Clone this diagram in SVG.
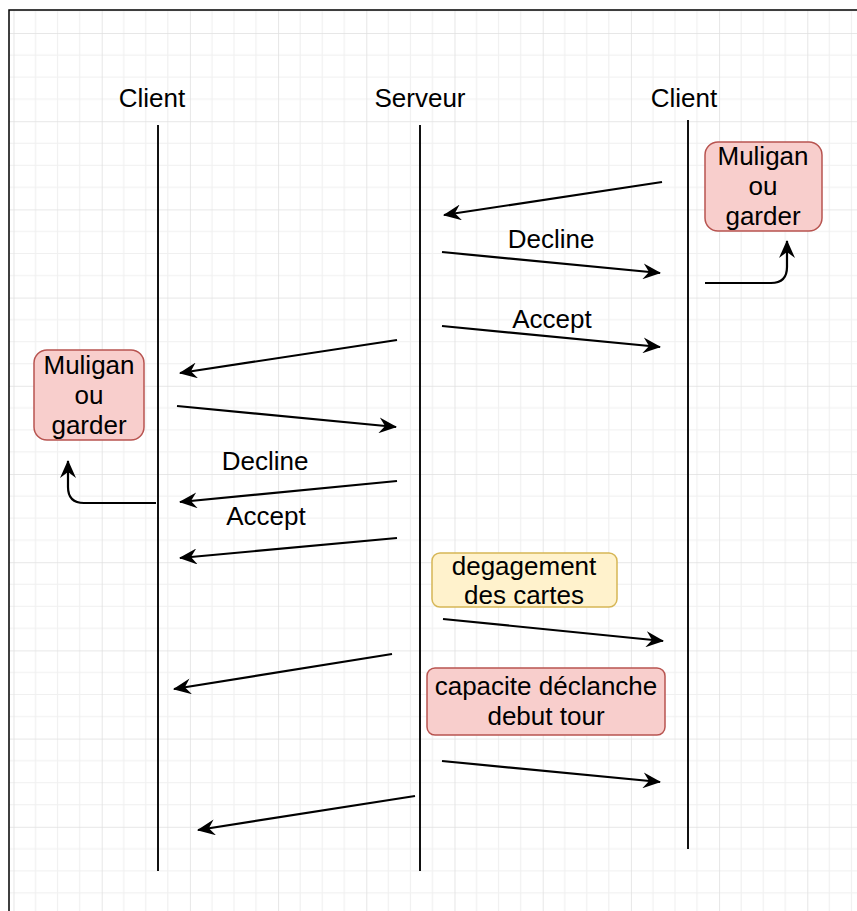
<svg xmlns="http://www.w3.org/2000/svg" width="857" height="911" viewBox="0 0 857 911">
<style>
  text { font-family: "Liberation Sans", Arial, sans-serif; font-size: 26px; fill: #000; text-anchor: middle; }
  .life { stroke: #111; stroke-width: 2; fill: none; }
  .msg { stroke: #000; stroke-width: 2.2; fill: none; marker-end: url(#arr); }
  .red { fill: #f8cecc; stroke: #b85450; stroke-width: 1.5; }
  .yel { fill: #fff2cc; stroke: #d6b656; stroke-width: 1.5; }
</style>
<defs>
  <marker id="arr" markerUnits="userSpaceOnUse" viewBox="0 0 18 16" refX="17" refY="8" markerWidth="18" markerHeight="16" orient="auto">
    <path d="M18,8 L0,0 L6,8 L0,16 Z" fill="#000"/>
  </marker>
  <pattern id="grid" patternUnits="userSpaceOnUse" x="13.5" y="33" width="88.2" height="88.2">
    <path d="M22.05,0 V88.2 M44.1,0 V88.2 M66.15,0 V88.2 M0,22.05 H88.2 M0,44.1 H88.2 M0,66.15 H88.2" stroke="#f0f0f0" stroke-width="1.2" fill="none"/>
    <path d="M0,0 V88.2 M0,0 H88.2" stroke="#e0e0e0" stroke-width="1.6" fill="none"/>
  </pattern>
</defs>
<rect x="0" y="0" width="857" height="911" fill="#fff"/>
<rect x="9" y="10" width="860" height="910" fill="url(#grid)" stroke="#000" stroke-width="1.5"/>

<g id="lifelines">
  <g id="client-left"><text x="152" y="107">Client</text><line class="life" x1="158" y1="125" x2="158" y2="871"/></g>
  <g id="serveur"><text x="420" y="107">Serveur</text><line class="life" x1="420" y1="125" x2="420" y2="871"/></g>
  <g id="client-right"><text x="684" y="107">Client</text><line class="life" x1="688" y1="120" x2="688" y2="849"/></g>
</g>

<g id="box-right-muligan">
  <rect class="red" x="705" y="142" width="117" height="89" rx="13"/>
  <text x="763" y="165">Muligan</text><text x="763" y="195">ou</text><text x="763" y="225">garder</text>
</g>
<g id="box-left-muligan">
  <rect class="red" x="34" y="350" width="110" height="90" rx="13"/>
  <text x="89" y="374">Muligan</text><text x="89" y="404">ou</text><text x="89" y="434">garder</text>
</g>
<g id="box-degagement">
  <rect class="yel" x="432" y="553" width="185" height="54" rx="8"/>
  <text x="524" y="575">degagement</text><text x="524" y="604">des cartes</text>
</g>
<g id="box-capacite">
  <rect class="red" x="427" y="668" width="238" height="67" rx="8"/>
  <text x="546" y="695">capacite déclanche</text><text x="546" y="725">debut tour</text>
</g>

<g id="connectors">
  <line class="msg" x1="662" y1="182" x2="444" y2="215"/>
  <line class="msg" x1="442" y1="252" x2="660" y2="273"/>
  <line class="msg" x1="442" y1="326" x2="660" y2="347"/>
  <line class="msg" x1="397" y1="340" x2="180" y2="373"/>
  <line class="msg" x1="177" y1="406" x2="396" y2="427"/>
  <line class="msg" x1="397" y1="481" x2="180" y2="502"/>
  <line class="msg" x1="397" y1="538" x2="180" y2="558"/>
  <line class="msg" x1="443" y1="619" x2="663" y2="641"/>
  <line class="msg" x1="392" y1="654" x2="174" y2="689"/>
  <line class="msg" x1="442" y1="761" x2="660" y2="782"/>
  <line class="msg" x1="415" y1="796" x2="198" y2="830"/>
  <path class="msg" d="M705,283 L771,283 Q787,283 787,267 L787,241"/>
  <path class="msg" d="M156,503 L84,503 Q68,503 68,487 L68,461"/>
  <text x="551" y="248">Decline</text>
  <text x="552" y="328">Accept</text>
  <text x="265" y="470">Decline</text>
  <text x="266" y="525">Accept</text>
</g>
</svg>
